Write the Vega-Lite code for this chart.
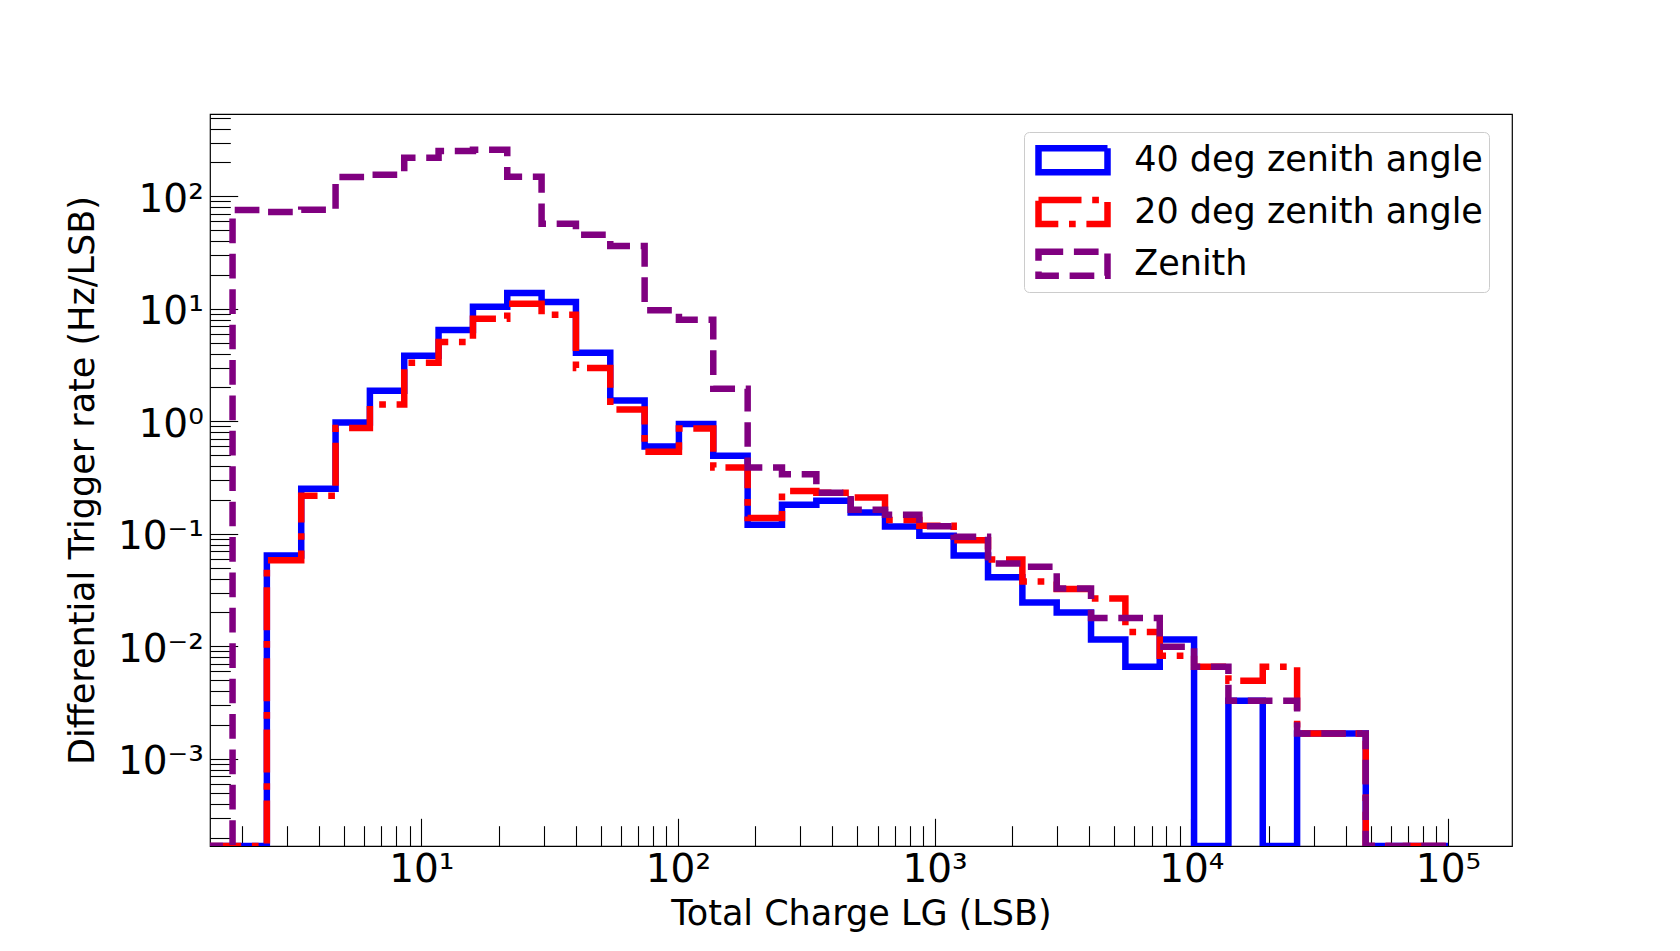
{
  "$schema": "https://vega.github.io/schema/vega-lite/v6.json",
  "width": 1302,
  "height": 732,
  "autosize": {"type": "none"},
  "padding": {"left": 210, "top": 114, "right": 168, "bottom": 105},
  "background": "white",
  "config": {
    "font": "DejaVu Sans",
    "view": {"stroke": "black", "strokeWidth": 1.2},
    "axis": {
      "domain": false,
      "grid": false,
      "tickColor": "black",
      "tickWidth": 1.1,
      "labelColor": "black",
      "labelFont": "DejaVu Sans",
      "labelFontSize": 39,
      "labelOverlap": false,
      "labelFlush": false,
      "titleColor": "black",
      "titleFont": "DejaVu Sans",
      "titleFontSize": 35,
      "titleFontWeight": "normal"
    }
  },
  "data": {
    "values": [
      {"series": "40 deg zenith angle", "charge": 1.352, "rate": 0.0001681},
      {"series": "40 deg zenith angle", "charge": 1.840, "rate": 0.0001681},
      {"series": "40 deg zenith angle", "charge": 2.503, "rate": 0.0643},
      {"series": "40 deg zenith angle", "charge": 3.407, "rate": 0.251},
      {"series": "40 deg zenith angle", "charge": 4.636, "rate": 0.978},
      {"series": "40 deg zenith angle", "charge": 6.308, "rate": 1.87},
      {"series": "40 deg zenith angle", "charge": 8.584, "rate": 3.82},
      {"series": "40 deg zenith angle", "charge": 11.68, "rate": 6.47},
      {"series": "40 deg zenith angle", "charge": 15.90, "rate": 10.4},
      {"series": "40 deg zenith angle", "charge": 21.63, "rate": 13.8},
      {"series": "40 deg zenith angle", "charge": 29.43, "rate": 11.5},
      {"series": "40 deg zenith angle", "charge": 40.05, "rate": 4.07},
      {"series": "40 deg zenith angle", "charge": 54.50, "rate": 1.53},
      {"series": "40 deg zenith angle", "charge": 74.17, "rate": 0.596},
      {"series": "40 deg zenith angle", "charge": 100.9, "rate": 0.946},
      {"series": "40 deg zenith angle", "charge": 137.3, "rate": 0.494},
      {"series": "40 deg zenith angle", "charge": 186.9, "rate": 0.1205},
      {"series": "40 deg zenith angle", "charge": 254.3, "rate": 0.181},
      {"series": "40 deg zenith angle", "charge": 346.1, "rate": 0.197},
      {"series": "40 deg zenith angle", "charge": 470.9, "rate": 0.155},
      {"series": "40 deg zenith angle", "charge": 640.8, "rate": 0.116},
      {"series": "40 deg zenith angle", "charge": 872.0, "rate": 0.096},
      {"series": "40 deg zenith angle", "charge": 1186.6, "rate": 0.0643},
      {"series": "40 deg zenith angle", "charge": 1614.6, "rate": 0.0412},
      {"series": "40 deg zenith angle", "charge": 2197.2, "rate": 0.0245},
      {"series": "40 deg zenith angle", "charge": 2990, "rate": 0.0200},
      {"series": "40 deg zenith angle", "charge": 4068, "rate": 0.0115},
      {"series": "40 deg zenith angle", "charge": 5536, "rate": 0.0066},
      {"series": "40 deg zenith angle", "charge": 7534, "rate": 0.0115},
      {"series": "40 deg zenith angle", "charge": 10252, "rate": 0.0001681},
      {"series": "40 deg zenith angle", "charge": 13951, "rate": 0.00328},
      {"series": "40 deg zenith angle", "charge": 18984, "rate": 0.0001681},
      {"series": "40 deg zenith angle", "charge": 25833, "rate": 0.00168},
      {"series": "40 deg zenith angle", "charge": 35156, "rate": 0.00168},
      {"series": "40 deg zenith angle", "charge": 47830, "rate": 0.0001681},
      {"series": "40 deg zenith angle", "charge": 65090, "rate": 0.0001681},
      {"series": "40 deg zenith angle", "charge": 88580, "rate": 0.0001681},
      {"series": "40 deg zenith angle", "charge": 100000, "rate": 0.0001681},

      {"series": "20 deg zenith angle", "charge": 1.352, "rate": 0.0001681},
      {"series": "20 deg zenith angle", "charge": 1.840, "rate": 0.0001681},
      {"series": "20 deg zenith angle", "charge": 2.503, "rate": 0.0582},
      {"series": "20 deg zenith angle", "charge": 3.407, "rate": 0.218},
      {"series": "20 deg zenith angle", "charge": 4.636, "rate": 0.87},
      {"series": "20 deg zenith angle", "charge": 6.308, "rate": 1.41},
      {"series": "20 deg zenith angle", "charge": 8.584, "rate": 3.32},
      {"series": "20 deg zenith angle", "charge": 11.68, "rate": 5.06},
      {"series": "20 deg zenith angle", "charge": 15.90, "rate": 8.17},
      {"series": "20 deg zenith angle", "charge": 21.63, "rate": 11.1},
      {"series": "20 deg zenith angle", "charge": 29.43, "rate": 8.86},
      {"series": "20 deg zenith angle", "charge": 40.05, "rate": 2.98},
      {"series": "20 deg zenith angle", "charge": 54.50, "rate": 1.27},
      {"series": "20 deg zenith angle", "charge": 74.17, "rate": 0.536},
      {"series": "20 deg zenith angle", "charge": 100.9, "rate": 0.861},
      {"series": "20 deg zenith angle", "charge": 137.3, "rate": 0.388},
      {"series": "20 deg zenith angle", "charge": 186.9, "rate": 0.138},
      {"series": "20 deg zenith angle", "charge": 254.3, "rate": 0.240},
      {"series": "20 deg zenith angle", "charge": 346.1, "rate": 0.232},
      {"series": "20 deg zenith angle", "charge": 470.9, "rate": 0.21},
      {"series": "20 deg zenith angle", "charge": 640.8, "rate": 0.133},
      {"series": "20 deg zenith angle", "charge": 872.0, "rate": 0.118},
      {"series": "20 deg zenith angle", "charge": 1186.6, "rate": 0.0878},
      {"series": "20 deg zenith angle", "charge": 1614.6, "rate": 0.0591},
      {"series": "20 deg zenith angle", "charge": 2197.2, "rate": 0.0376},
      {"series": "20 deg zenith angle", "charge": 2990, "rate": 0.0324},
      {"series": "20 deg zenith angle", "charge": 4068, "rate": 0.0266},
      {"series": "20 deg zenith angle", "charge": 5536, "rate": 0.0134},
      {"series": "20 deg zenith angle", "charge": 7534, "rate": 0.00824},
      {"series": "20 deg zenith angle", "charge": 10252, "rate": 0.00657},
      {"series": "20 deg zenith angle", "charge": 13951, "rate": 0.00494},
      {"series": "20 deg zenith angle", "charge": 18984, "rate": 0.00657},
      {"series": "20 deg zenith angle", "charge": 25833, "rate": 0.00168},
      {"series": "20 deg zenith angle", "charge": 35156, "rate": 0.00168},
      {"series": "20 deg zenith angle", "charge": 47830, "rate": 0.0001681},
      {"series": "20 deg zenith angle", "charge": 65090, "rate": 0.0001681},
      {"series": "20 deg zenith angle", "charge": 88580, "rate": 0.0001681},
      {"series": "20 deg zenith angle", "charge": 100000, "rate": 0.0001681},

      {"series": "Zenith", "charge": 1.352, "rate": 0.0001681},
      {"series": "Zenith", "charge": 1.840, "rate": 75.6},
      {"series": "Zenith", "charge": 2.503, "rate": 72.5},
      {"series": "Zenith", "charge": 3.407, "rate": 75.9},
      {"series": "Zenith", "charge": 4.636, "rate": 148},
      {"series": "Zenith", "charge": 6.308, "rate": 155},
      {"series": "Zenith", "charge": 8.584, "rate": 220},
      {"series": "Zenith", "charge": 11.68, "rate": 253},
      {"series": "Zenith", "charge": 15.90, "rate": 259},
      {"series": "Zenith", "charge": 21.63, "rate": 149},
      {"series": "Zenith", "charge": 29.43, "rate": 57},
      {"series": "Zenith", "charge": 40.05, "rate": 45.5},
      {"series": "Zenith", "charge": 54.50, "rate": 36.2},
      {"series": "Zenith", "charge": 74.17, "rate": 9.7},
      {"series": "Zenith", "charge": 100.9, "rate": 8.0},
      {"series": "Zenith", "charge": 137.3, "rate": 1.95},
      {"series": "Zenith", "charge": 186.9, "rate": 0.388},
      {"series": "Zenith", "charge": 254.3, "rate": 0.338},
      {"series": "Zenith", "charge": 346.1, "rate": 0.232},
      {"series": "Zenith", "charge": 470.9, "rate": 0.164},
      {"series": "Zenith", "charge": 640.8, "rate": 0.148},
      {"series": "Zenith", "charge": 872.0, "rate": 0.117},
      {"series": "Zenith", "charge": 1186.6, "rate": 0.094},
      {"series": "Zenith", "charge": 1614.6, "rate": 0.0545},
      {"series": "Zenith", "charge": 2197.2, "rate": 0.051},
      {"series": "Zenith", "charge": 2990, "rate": 0.0327},
      {"series": "Zenith", "charge": 4068, "rate": 0.0179},
      {"series": "Zenith", "charge": 5536, "rate": 0.0179},
      {"series": "Zenith", "charge": 7534, "rate": 0.0099},
      {"series": "Zenith", "charge": 10252, "rate": 0.00657},
      {"series": "Zenith", "charge": 13951, "rate": 0.00328},
      {"series": "Zenith", "charge": 18984, "rate": 0.00328},
      {"series": "Zenith", "charge": 25833, "rate": 0.00168},
      {"series": "Zenith", "charge": 35156, "rate": 0.00168},
      {"series": "Zenith", "charge": 47830, "rate": 0.0001681},
      {"series": "Zenith", "charge": 65090, "rate": 0.0001681},
      {"series": "Zenith", "charge": 88580, "rate": 0.0001681},
      {"series": "Zenith", "charge": 100000, "rate": 0.0001681}
    ]
  },
  "encoding": {
    "x": {
      "field": "charge",
      "type": "quantitative",
      "scale": {"type": "log", "domain": [1.503, 177600], "nice": false},
      "axis": {
        "values": [2, 3, 4, 5, 6, 7, 8, 9, 10, 20, 30, 40, 50, 60, 70, 80, 90, 100, 200, 300, 400, 500, 600, 700, 800, 900, 1000, 2000, 3000, 4000, 5000, 6000, 7000, 8000, 9000, 10000, 20000, 30000, 40000, 50000, 60000, 70000, 80000, 90000, 100000],
        "labelExpr": "abs(log(datum.value)/LN10 - round(log(datum.value)/LN10)) < 0.001 ? '10' + replace(replace(replace(replace(replace(replace(replace('' + round(log(datum.value)/LN10), '-', '⁻'), '0', '⁰'), '1', '¹'), '2', '²'), '3', '³'), '4', '⁴'), '5', '⁵') : ''",
        "tickSize": {"condition": {"test": "abs(log(datum.value)/LN10 - round(log(datum.value)/LN10)) < 0.001", "value": -27.7}, "value": -20.3},
        "labelPadding": 32.1,
        "title": "Total Charge LG (LSB)",
        "titleX": 651,
        "titleY": 78,
        "titleAlign": "center",
        "titleBaseline": "alphabetic"
      }
    },
    "y": {
      "field": "rate",
      "type": "quantitative",
      "scale": {"type": "log", "domain": [0.0001681, 538.2], "nice": false},
      "axis": {
        "values": [0.0002, 0.0003, 0.0004, 0.0005, 0.0006, 0.0007, 0.0008, 0.0009, 0.001, 0.002, 0.003, 0.004, 0.005, 0.006, 0.007, 0.008, 0.009, 0.01, 0.02, 0.03, 0.04, 0.05, 0.06, 0.07, 0.08, 0.09, 0.1, 0.2, 0.3, 0.4, 0.5, 0.6, 0.7, 0.8, 0.9, 1, 2, 3, 4, 5, 6, 7, 8, 9, 10, 20, 30, 40, 50, 60, 70, 80, 90, 100, 200, 300, 400, 500],
        "labelExpr": "abs(log(datum.value)/LN10 - round(log(datum.value)/LN10)) < 0.001 ? '10' + replace(replace(replace(replace(replace(replace(replace('' + round(log(datum.value)/LN10), '-', '⁻'), '0', '⁰'), '1', '¹'), '2', '²'), '3', '³'), '4', '⁴'), '5', '⁵') : ''",
        "tickSize": {"condition": {"test": "abs(log(datum.value)/LN10 - round(log(datum.value)/LN10)) < 0.001", "value": -27.7}, "value": -20.3},
        "labelPadding": 34.4,
        "labelOffset": 3,
        "labelAlign": "right",
        "labelBaseline": "middle",
        "title": "Differential Trigger rate (Hz/LSB)",
        "titleX": -117,
        "titleY": 366,
        "titleAngle": 270,
        "titleAlign": "center",
        "titleBaseline": "alphabetic"
      }
    },
    "color": {
      "field": "series",
      "type": "nominal",
      "scale": {"domain": ["40 deg zenith angle", "20 deg zenith angle", "Zenith"], "range": ["#0000ff", "#ff0000", "#800080"]},
      "legend": {
        "title": null,
        "orient": "none",
        "legendX": 814,
        "legendY": 18,
        "padding": 5.3,
        "fillColor": "rgba(255,255,255,0.8)",
        "strokeColor": "#cccccc",
        "cornerRadius": 5,
        "symbolType": "M-1,-0.348L1,-0.348L1,0.348L-1,0.348Z",
        "symbolSize": 4761,
        "symbolStrokeWidth": 6.5,
        "clipHeight": 46,
        "rowPadding": 5.7,
        "symbolOffset": 5.7,
        "labelOffset": 23.2,
        "labelFont": "DejaVu Sans",
        "labelFontSize": 35,
        "labelColor": "black",
        "labelLimit": 1000,
        "labelBaseline": "middle",
        "encode": {"symbols": {"update": {"fill": {"value": "transparent"}}}}
      }
    },
    "strokeDash": {
      "field": "series",
      "type": "nominal",
      "scale": {"domain": ["40 deg zenith angle", "20 deg zenith angle", "Zenith"], "range": [[1, 0], [43, 10.7, 6.7, 10.7], [24.7, 10.7]]},
      "legend": {
        "title": null,
        "orient": "none",
        "legendX": 814,
        "legendY": 18,
        "padding": 5.3,
        "fillColor": "rgba(255,255,255,0.8)",
        "strokeColor": "#cccccc",
        "cornerRadius": 5,
        "symbolType": "M-1,-0.348L1,-0.348L1,0.348L-1,0.348Z",
        "symbolSize": 4761,
        "symbolStrokeWidth": 6.5,
        "clipHeight": 46,
        "rowPadding": 5.7,
        "symbolOffset": 5.7,
        "labelOffset": 23.2,
        "labelFont": "DejaVu Sans",
        "labelFontSize": 35,
        "labelColor": "black",
        "labelLimit": 1000,
        "labelBaseline": "middle",
        "encode": {"symbols": {"update": {"fill": {"value": "transparent"}}}}
      }
    }
  },
  "layer": [
    {
      "transform": [{"filter": "datum.series === '40 deg zenith angle'"}],
      "mark": {"type": "line", "interpolate": "step-after", "strokeWidth": 6.5, "clip": true}
    },
    {
      "transform": [{"filter": "datum.series === '20 deg zenith angle'"}],
      "mark": {"type": "line", "interpolate": "step-after", "strokeWidth": 6.5, "clip": true}
    },
    {
      "transform": [{"filter": "datum.series === 'Zenith'"}],
      "mark": {"type": "line", "interpolate": "step-after", "strokeWidth": 6.5, "clip": true}
    }
  ]
}
